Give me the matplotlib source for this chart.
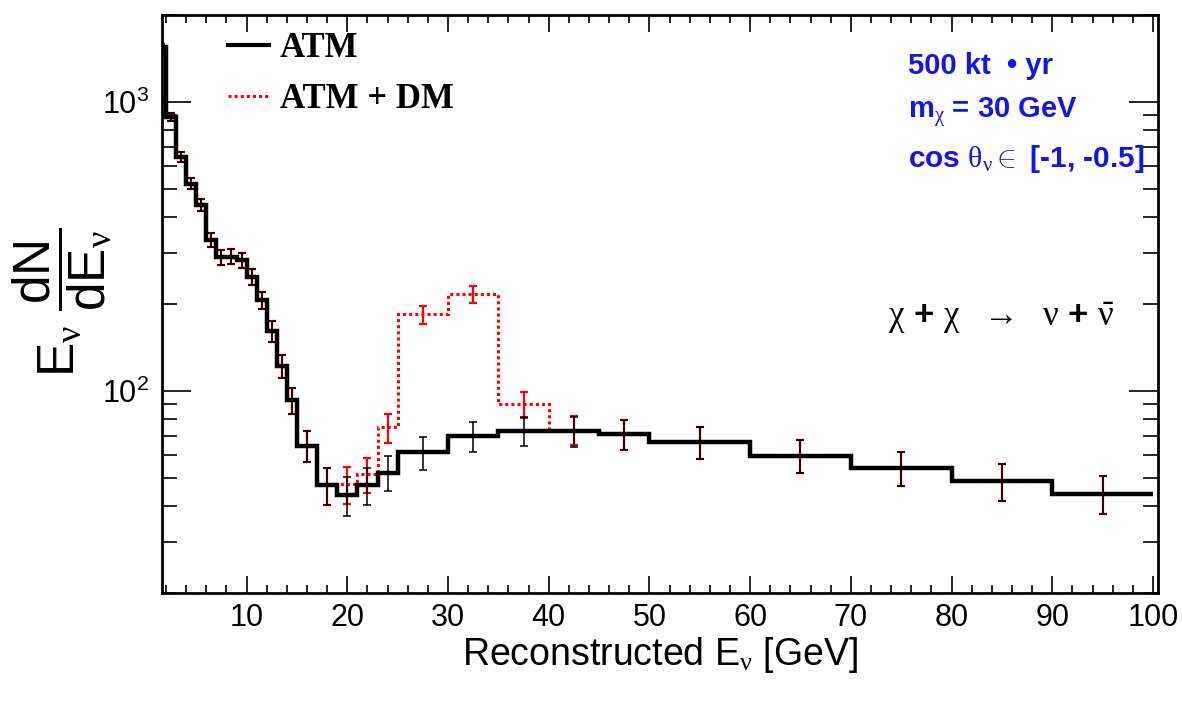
import numpy as np
import matplotlib
matplotlib.use("Agg")
import matplotlib.pyplot as plt
from matplotlib.lines import Line2D
from matplotlib.ticker import MultipleLocator, LogLocator, NullFormatter
from matplotlib.font_manager import FontProperties

plt.rcParams['font.family'] = ['Liberation Sans', 'DejaVu Sans']
plt.rcParams['mathtext.fontset'] = 'custom'
plt.rcParams['mathtext.rm'] = 'Liberation Sans'
plt.rcParams['mathtext.it'] = 'Liberation Serif'   # greek letters look like ROOT's symbol font
plt.rcParams['mathtext.bf'] = 'Liberation Sans:bold'

# bin edges [GeV]
edges = [1, 2, 3, 4, 5, 6, 7, 8, 9, 10, 11, 12, 13, 14, 15, 17, 19, 21, 23, 25,
         30, 35, 40, 45, 50, 60, 70, 80, 90, 100]
# atmospheric only
atm = [1545, 887, 646, 522, 439, 333, 290, 292, 283, 248, 206, 161, 122, 93, 64.6,
       47.2, 43.6, 47.2, 52.2, 61.3, 70.0, 72.8, 72.5, 71.0, 66.6, 59.8, 54.2, 48.7, 44.1]
atm_err = [39, 30, 25, 23, 21, 18, 17, 17, 17, 16, 14, 13, 11, 9.6, 8.0,
           6.9, 6.6, 6.9, 7.2, 7.8, 8.4, 8.5, 8.5, 8.4, 8.2, 7.7, 7.4, 7.0, 6.6]
# atmospheric + dark matter
atm_dm = [1545, 887, 646, 522, 439, 333, 290, 292, 283, 248, 206, 161, 122, 93, 64.6,
          47.2, 47.5, 51.5, 74.8, 184, 216, 90, 73.4, 71.0, 66.6, 59.8, 54.2, 48.7, 44.1]
atm_dm_err = [39, 30, 25, 23, 21, 18, 17, 17, 17, 16, 14, 13, 11, 9.6, 8.0,
              6.9, 6.9, 7.2, 8.6, 13.6, 14.7, 9.5, 8.6, 8.4, 8.2, 7.7, 7.4, 7.0, 6.6]

W, H = 1182, 705
blue = '#1414f0'

def fx(px):
    return px / W

def fy(py):
    return 1 - py / H

fig = plt.figure(figsize=(W / 100, H / 100), dpi=100)
ax = fig.add_axes([fx(162), fy(593), fx(1158) - fx(162), fy(15) - fy(593)])

e = np.array(edges, dtype=float)
centers = 0.5 * (e[1:] + e[:-1])

# red first, black drawn on top
ax.stairs(atm_dm, edges, baseline=None, color='red', lw=2.2, ls=(0, (1, 1)), zorder=2)
ax.errorbar(centers, atm_dm, yerr=atm_dm_err, fmt='none', ecolor='red',
            elinewidth=1.6, capsize=3, capthick=1.6, zorder=2)
ax.stairs(atm, edges, baseline=None, color='black', lw=3.2, zorder=3)
ax.errorbar(centers, atm, yerr=atm_err, fmt='none', ecolor='black',
            elinewidth=1.1, capsize=3, capthick=1.1, zorder=4)

ax.set_yscale('log')
ax.set_xlim(1.6, 100.5)
ax.set_ylim(20, 2000)
ax.xaxis.set_major_locator(MultipleLocator(10))
ax.xaxis.set_minor_locator(MultipleLocator(2))
ax.yaxis.set_minor_locator(LogLocator(base=10, subs=range(2, 10)))
ax.yaxis.set_minor_formatter(NullFormatter())

ax.tick_params(which='both', direction='in', top=True, right=True, width=1.2)
ax.tick_params(axis='x', which='major', length=12.5, labelsize=22, pad=7)
ax.tick_params(axis='x', which='minor', length=6)
ax.tick_params(axis='y', which='major', length=21, labelsize=22, pad=9)
ax.tick_params(axis='y', which='minor', length=10.5)
for s in ax.spines.values():
    s.set_linewidth(2)

# legend
handles = [Line2D([], [], color='black', lw=3),
           Line2D([], [], color='red', lw=2.2, ls=(0, (1, 1)))]
ax.legend(handles, ['ATM', 'ATM + DM'], loc='upper left', bbox_to_anchor=(0.066, 0.97),
          frameon=False, prop=FontProperties(family='Liberation Serif', weight='bold', size=25),
          handlelength=1.2, handletextpad=0.3, labelspacing=0.52, borderpad=0, borderaxespad=0)

# labels
fig.text(fx(660), fy(655), r'Reconstructed E$_{\nu}$ [GeV]', fontsize=27, ha='center', va='center')
fig.text(fx(62), fy(302), r'E$_{\nu}$ $\dfrac{\mathrm{dN}}{\mathrm{dE}_{\nu}}$', fontsize=37,
         rotation=90, ha='center', va='center')

# annotations
fig.text(fx(908), fy(66), '500 kt  \u2022 yr', color=blue, fontsize=21, fontweight='bold', va='center')
fig.text(fx(908), fy(112), r'm$_{\chi}$ = 30 GeV', color=blue, fontsize=21, fontweight='bold', va='center')
fig.text(fx(908), fy(159), r'cos $\theta_{\nu}$$\in$ [-1, -0.5]', color=blue, fontsize=21.5,
         fontweight='bold', va='center')
fig.text(fx(888), fy(318), r'$\chi$ + $\chi$  $\rightarrow$  $\nu$ + $\bar{\nu}$', fontsize=25,
         fontweight='bold', va='center')

fig.savefig('out.png', dpi=100)
